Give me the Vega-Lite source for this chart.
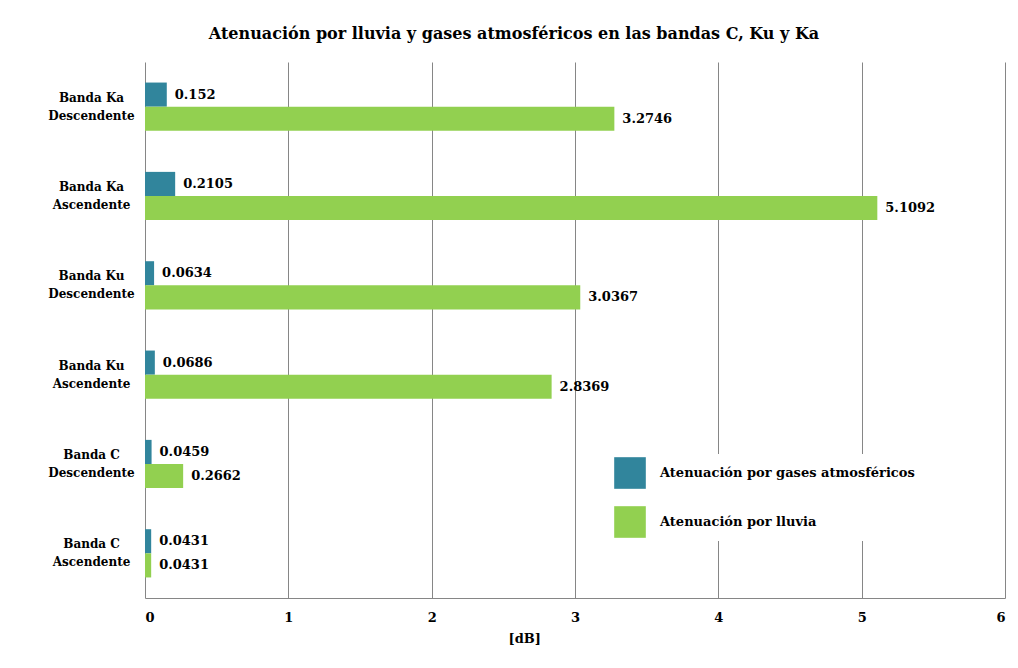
{
  "$schema": "https://vega.github.io/schema/vega-lite/v6.json",
  "autosize": {"type": "none"},
  "width": 860,
  "height": 536,
  "padding": {"left": 145, "top": 62, "right": 13, "bottom": 70},
  "background": "white",
  "config": {
    "font": "DejaVu Serif",
    "view": {"stroke": null},
    "axis": {"labelFont": "DejaVu Serif", "titleFont": "DejaVu Serif"}
  },
  "title": {
    "text": "Atenuación por lluvia y gases atmosféricos en las bandas C, Ku y Ka",
    "font": "DejaVu Serif",
    "fontSize": 16,
    "fontWeight": "bold",
    "color": "#000000",
    "anchor": "middle",
    "dx": -61,
    "offset": 20
  },
  "data": {
    "values": [
      {"banda": "Banda Ka|Descendente", "serie": "Atenuación por gases atmosféricos", "valor": 0.152},
      {"banda": "Banda Ka|Descendente", "serie": "Atenuación por lluvia", "valor": 3.2746},
      {"banda": "Banda Ka|Ascendente", "serie": "Atenuación por gases atmosféricos", "valor": 0.2105},
      {"banda": "Banda Ka|Ascendente", "serie": "Atenuación por lluvia", "valor": 5.1092},
      {"banda": "Banda Ku|Descendente", "serie": "Atenuación por gases atmosféricos", "valor": 0.0634},
      {"banda": "Banda Ku|Descendente", "serie": "Atenuación por lluvia", "valor": 3.0367},
      {"banda": "Banda Ku|Ascendente", "serie": "Atenuación por gases atmosféricos", "valor": 0.0686},
      {"banda": "Banda Ku|Ascendente", "serie": "Atenuación por lluvia", "valor": 2.8369},
      {"banda": "Banda C|Descendente", "serie": "Atenuación por gases atmosféricos", "valor": 0.0459},
      {"banda": "Banda C|Descendente", "serie": "Atenuación por lluvia", "valor": 0.2662},
      {"banda": "Banda C|Ascendente", "serie": "Atenuación por gases atmosféricos", "valor": 0.0431},
      {"banda": "Banda C|Ascendente", "serie": "Atenuación por lluvia", "valor": 0.0431}
    ]
  },
  "encoding": {
    "y": {
      "field": "banda",
      "type": "nominal",
      "sort": null,
      "scale": {"paddingInner": 0.46, "paddingOuter": 0.23},
      "axis": {
        "title": null,
        "ticks": false,
        "domain": false,
        "labelAlign": "center",
        "labelPadding": 54,
        "labelOffset": -9,
        "labelFontSize": 12,
        "labelFontWeight": "bold",
        "labelColor": "#000000",
        "labelLineHeight": 18,
        "labelExpr": "split(datum.value, '|')"
      }
    },
    "yOffset": {
      "field": "serie",
      "type": "nominal",
      "sort": ["Atenuación por gases atmosféricos", "Atenuación por lluvia"],
      "scale": {"paddingInner": 0, "paddingOuter": 0}
    },
    "x": {
      "field": "valor",
      "type": "quantitative",
      "scale": {"domain": [0, 6], "nice": false},
      "axis": {
        "title": "[dB]",
        "titleFontSize": 13,
        "titleFontWeight": "bold",
        "titleColor": "#000000",
        "titleAnchor": "start",
        "titleX": 363,
        "titlePadding": 8,
        "values": [0, 1, 2, 3, 4, 5, 6],
        "format": "d",
        "ticks": false,
        "grid": true,
        "gridColor": "#868686",
        "gridWidth": 1,
        "domainColor": "#868686",
        "labelPadding": 13,
        "labelFontSize": 13,
        "labelFontWeight": "bold",
        "labelColor": "#000000"
      }
    }
  },
  "layer": [
    {
      "mark": {"type": "bar", "cornerRadius": 0},
      "encoding": {
        "color": {
          "field": "serie",
          "type": "nominal",
          "scale": {
            "domain": ["Atenuación por gases atmosféricos", "Atenuación por lluvia"],
            "range": ["#31859C", "#92D050"]
          },
          "legend": {
            "title": null,
            "orient": "none",
            "legendX": 466,
            "legendY": 392,
            "fillColor": "white",
            "padding": 3,
            "symbolType": "square",
            "symbolSize": 1000,
            "symbolStrokeWidth": 0,
            "symbolOpacity": 1,
            "labelFont": "DejaVu Serif",
            "labelFontSize": 13,
            "labelFontWeight": "bold",
            "labelColor": "#000000",
            "labelOffset": 14,
            "rowPadding": 17,
            "labelLimit": 400
          }
        }
      }
    },
    {
      "mark": {
        "type": "text",
        "align": "left",
        "baseline": "middle",
        "dx": 8,
        "fontSize": 13,
        "fontWeight": "bold",
        "color": "#000000",
        "font": "DejaVu Serif"
      },
      "encoding": {
        "text": {"field": "valor", "type": "quantitative", "format": ""}
      }
    }
  ]
}
